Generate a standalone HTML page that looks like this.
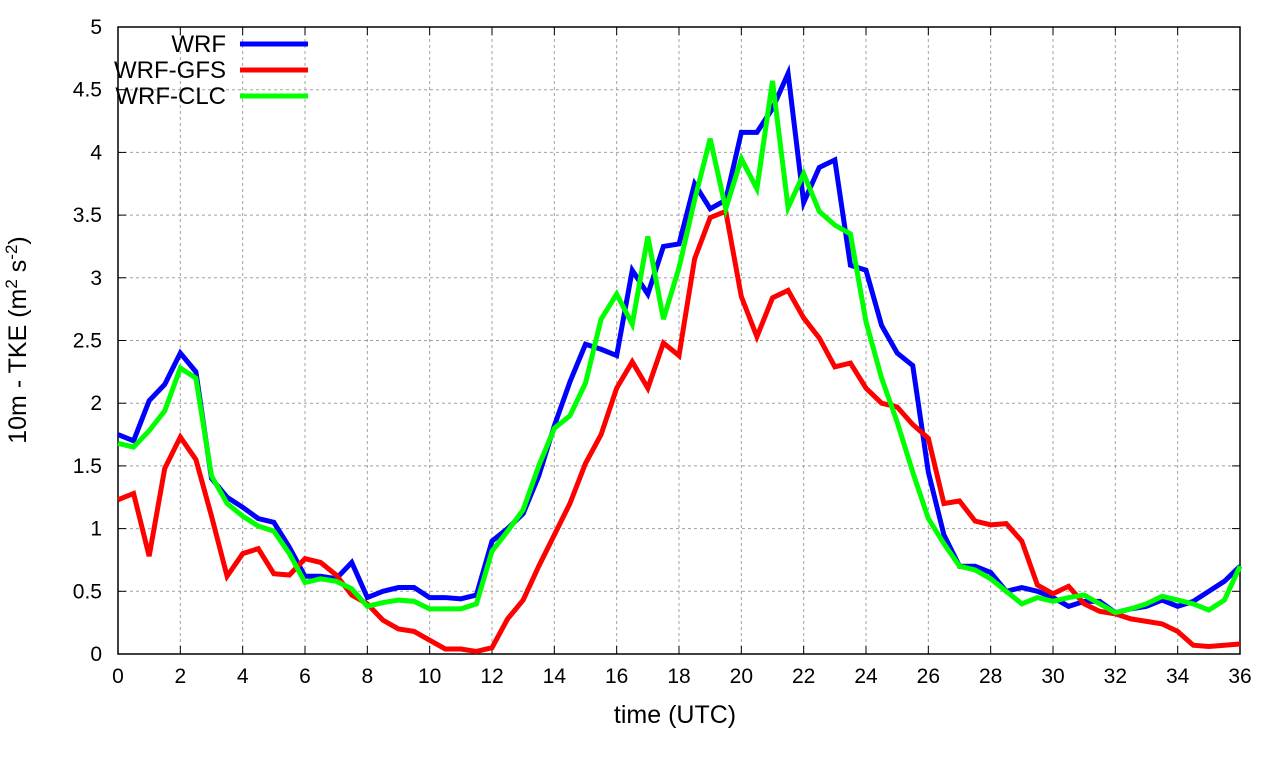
<!DOCTYPE html>
<html><head><meta charset="utf-8"><style>
body{margin:0;background:#fff}
svg text{font-family:"Liberation Sans",sans-serif;fill:#000}
</style></head><body>
<svg width="1280" height="760" xmlns="http://www.w3.org/2000/svg">
<g id="grid"></g>
<g id="axes"></g>
<g id="series"></g>
<g id="legend"></g>
<text x="675" y="723" font-size="25" text-anchor="middle">time (UTC)</text>
<text transform="translate(26,340) rotate(-90)" font-size="25" text-anchor="middle">10m - TKE (m<tspan font-size="17" dy="-9">2</tspan><tspan dy="9"> s</tspan><tspan font-size="17" dy="-9">-2</tspan><tspan dy="9">)</tspan></text>
</svg>
<script>
const xTicks=[0,2,4,6,8,10,12,14,16,18,20,22,24,26,28,30,32,34,36];
const yTicks=[0,0.5,1,1.5,2,2.5,3,3.5,4,4.5,5];
const yTickLabels=["0","0.5","1","1.5","2","2.5","3","3.5","4","4.5","5"];
const times=[];for(let i=0;i<=72;i++)times.push(i*0.5);
const wrf=[1.75,1.70,2.02,2.15,2.40,2.25,1.40,1.25,1.17,1.08,1.05,0.85,0.62,0.62,0.60,0.73,0.45,0.50,0.53,0.53,0.45,0.45,0.44,0.47,0.90,1.00,1.12,1.42,1.82,2.17,2.47,2.43,2.38,3.06,2.87,3.25,3.27,3.75,3.55,3.62,4.16,4.16,4.35,4.63,3.60,3.88,3.94,3.10,3.06,2.62,2.40,2.30,1.45,0.95,0.70,0.70,0.65,0.50,0.53,0.50,0.45,0.38,0.42,0.42,0.33,0.36,0.38,0.43,0.38,0.42,0.50,0.58,0.70];
const gfs=[1.23,1.28,0.78,1.48,1.73,1.55,1.10,0.62,0.80,0.84,0.64,0.63,0.76,0.73,0.63,0.47,0.40,0.27,0.20,0.18,0.11,0.04,0.04,0.02,0.05,0.28,0.43,0.70,0.95,1.20,1.52,1.75,2.12,2.33,2.12,2.48,2.38,3.15,3.48,3.53,2.85,2.53,2.84,2.90,2.68,2.52,2.29,2.32,2.12,2.00,1.97,1.83,1.72,1.20,1.22,1.06,1.03,1.04,0.90,0.55,0.48,0.54,0.40,0.34,0.32,0.28,0.26,0.24,0.18,0.07,0.06,0.07,0.08];
const clc=[1.68,1.65,1.78,1.94,2.28,2.20,1.42,1.20,1.10,1.02,0.98,0.80,0.57,0.60,0.58,0.52,0.38,0.41,0.43,0.42,0.36,0.36,0.36,0.40,0.82,0.98,1.15,1.50,1.80,1.90,2.16,2.67,2.87,2.63,3.33,2.67,3.08,3.62,4.11,3.55,3.95,3.71,4.57,3.56,3.83,3.53,3.42,3.35,2.65,2.20,1.85,1.45,1.08,0.88,0.70,0.67,0.60,0.50,0.40,0.45,0.42,0.45,0.47,0.40,0.33,0.36,0.40,0.46,0.43,0.40,0.35,0.43,0.70];
const L=118,R=1240,T=27,B=654;
const xs=v=>L+(v-0)/36*(R-L);
const ys=v=>B-v/5*(B-T);
const NS="http://www.w3.org/2000/svg";
function mk(tag,attrs,parent){const e=document.createElementNS(NS,tag);for(const k in attrs)e.setAttribute(k,attrs[k]);parent.appendChild(e);return e;}
const grid=document.getElementById('grid'),axes=document.getElementById('axes');
xTicks.forEach(t=>{
 const x=xs(t);
 if(t>0&&t<36){const g=mk('line',{x1:x,x2:x,y1:T,y2:B,stroke:'#a0a0a0','stroke-width':1,'stroke-dasharray':'3,3'},grid);
 
 }
 mk('line',{x1:x,x2:x,y1:B,y2:B-8,stroke:'#000'},axes);
 mk('line',{x1:x,x2:x,y1:T,y2:T+8,stroke:'#000'},axes);
 const tx=mk('text',{x:x,y:B+29,'font-size':21,'text-anchor':'middle'},axes);tx.textContent=t;
 
 
});
yTicks.forEach((t,i)=>{
 const y=ys(t);
 if(t>0&&t<5){const g=mk('line',{x1:L,x2:R,y1:y,y2:y,stroke:'#a0a0a0','stroke-width':1,'stroke-dasharray':'3,3'},grid);
 
 }
 mk('line',{x1:L,x2:L+8,y1:y,y2:y,stroke:'#000'},axes);
 mk('line',{x1:R,x2:R-8,y1:y,y2:y,stroke:'#000'},axes);
 const tx=mk('text',{x:L-16,y:y+7,'font-size':21,'text-anchor':'end'},axes);tx.textContent=yTickLabels[i];
 
 
});
const fr=mk('rect',{x:L,y:T,width:R-L,height:B-T,fill:'none',stroke:'#000','stroke-width':1.5},axes);


const ser=document.getElementById('series'),leg=document.getElementById('legend');
const defs=[["WRF",wrf,"#0000ff"],["WRF-GFS",gfs,"#ff0000"],["WRF-CLC",clc,"#00ff00"]];
defs.forEach((d,i)=>{
 const pts=d[1].map((v,j)=>xs(times[j])+','+ys(v)).join(' ');
 const p=mk('polyline',{points:pts,fill:'none',stroke:d[2],'stroke-width':5,'stroke-linejoin':'miter'},ser);
 
 
 const y=44+i*26;
 const t=mk('text',{x:226,y:y+8,'font-size':24,'text-anchor':'end'},leg);t.textContent=d[0];
 
 
 const l=mk('line',{x1:240,x2:308,y1:y,y2:y,stroke:d[2],'stroke-width':5},leg);
 
 
});
</script>
</body></html>
